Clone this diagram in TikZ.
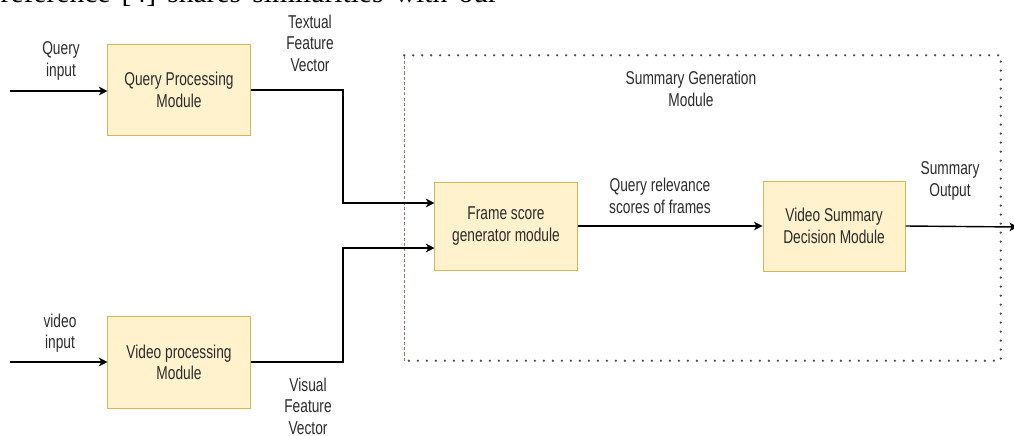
\documentclass[tikz,border=0pt]{standalone}
\usepackage{fontspec}
\setmainfont{Liberation Sans}[FakeStretch=0.74]
\newfontfamily\bodyserif{Liberation Serif}
\usetikzlibrary{positioning, arrows.meta}
\definecolor{boxfill}{HTML}{FFF2CC}
\definecolor{boxline}{HTML}{D6B656}
\definecolor{txtgray}{HTML}{2B2B2B}

\begin{document}
\begin{tikzpicture}[
    x=0.025cm, y=-0.025cm,
    >={Stealth[length=6pt, width=6pt, inset=1.5pt]},
    line width=1pt,
    font=\fontsize{13.2}{15.2}\selectfont,
    module/.style={rectangle, draw=boxline, fill=boxfill, line width=0.7pt, minimum width=3.55cm, minimum height=2.25cm, align=center, text=txtgray},
    tag/.style={align=center, text=txtgray},
    groupdots/.style={line width=1.8pt, line cap=round, dash pattern=on 0pt off 6.4pt, draw=black!70},
    groupdash/.style={line width=0.6pt, dash pattern=on 2.2pt off 1.5pt, draw=brown!50!black!70}
  ]
  \useasboundingbox (0,0) rectangle (1014,435);
  \clip (0,0) rectangle (1014,435);

  % --- TEXT LINE ABOVE (cut off) ---
  \node[anchor=base west, inner sep=0, font=\bodyserif\fontsize{21}{24}\selectfont] (refline) at (0,2)
    {\makebox[12.425cm][s]{reference [4] shares similarities with our}};

  % --- GROUP ---
  \node[minimum width=14.875cm, minimum height=7.6cm, inner sep=0] (sgm) at (702.5,208) {};
  \draw[groupdots] (sgm.north west) -- (sgm.north east) -- (sgm.south east) -- (sgm.south west);
  \draw[groupdash] (sgm.south west) -- (sgm.north west);
  \node[tag] (sgmlabel) at (691,89) {Summary Generation\\Module};

  % --- MODULES ---
  \node[module] (qpm) at (179,90) {Query Processing\\Module};
  \node[module, minimum height=2.3cm, below=4.5cm of qpm] (vpm) {Video processing\\Module};
  \node[module, minimum height=2.2cm] (fsg) at (506,226) {Frame score\\generator module};
  \node[module, right=4.625cm of fsg] (vsd) {Video Summary\\Decision Module};

  % --- FREE ENDS AND BENDS ---
  \coordinate (qin) at (10,91);
  \coordinate (vin) at (10,362);
  \coordinate (jq) at (343,203);
  \coordinate (jv) at (343,248);
  \coordinate (sout) at (1018,227);

  % --- LABELS ---
  \node[tag] (qinlabel) at (61,61) {Query\\input};
  \node[tag] (vinlabel) at (60,333) {video\\input};
  \node[tag] (tfv) at (310,43) {Textual\\Feature\\Vector};
  \node[tag] (vfv) at (308,406) {Visual\\Feature\\Vector};
  \node[tag] (qrs) at (660,196) {Query relevance\\scores of frames};
  \node[tag] (sout label) at (950,181) {Summary\\Output};

  % --- CONNECTORS ---
  \draw[->] (qin) -- (qpm.west |- qin);
  \draw[->] (vin) -- (vpm.west |- vin);
  \draw[->] (qpm.east) -| (jq) -- (fsg.west |- jq);
  \draw[->] (vpm.east) -| (jv) -- (fsg.west |- jv);
  \draw[->] (fsg.east) -- (vsd.west);
  \draw[->] (vsd.east) -- (sout);

\end{tikzpicture}
\end{document}
